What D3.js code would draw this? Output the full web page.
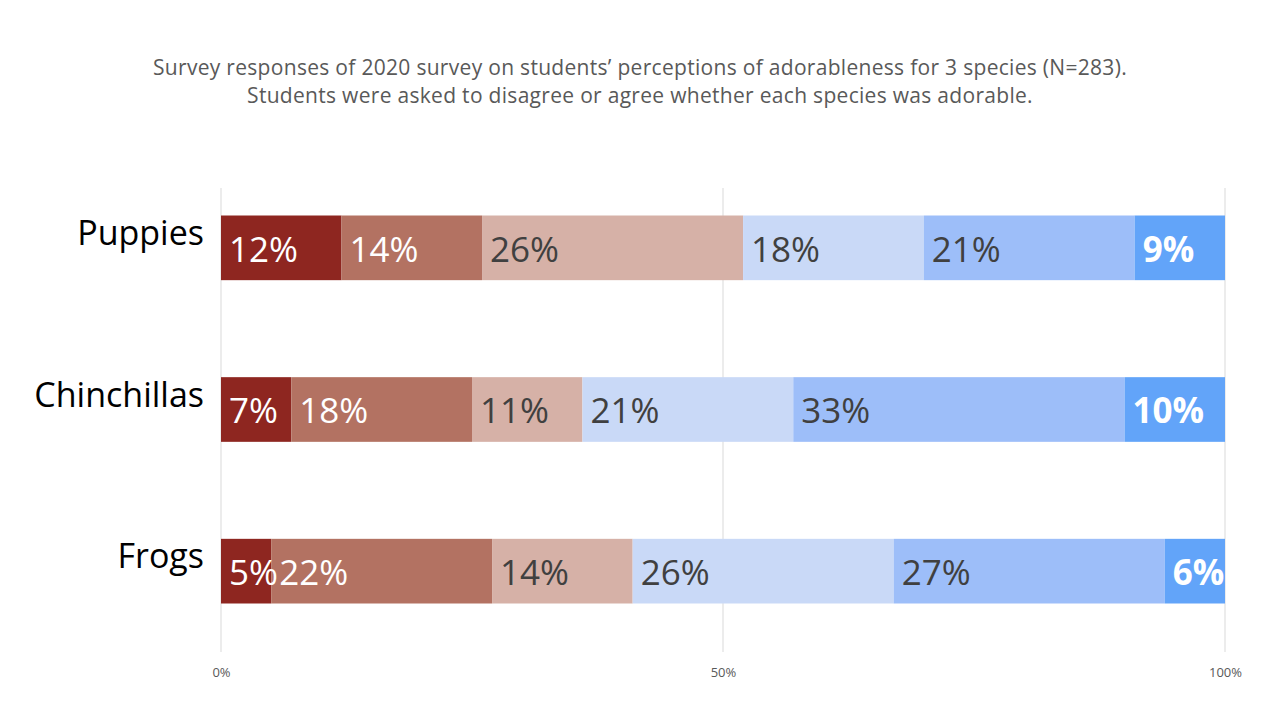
<!DOCTYPE html>
<html>
<head>
<meta charset="utf-8">
<script src="https://cdn.jsdelivr.net/npm/d3@7"></script>
<style>
  body { margin: 0; background: #fff; }
  text { font-family: "Open Sans", "Noto Sans", sans-serif; }
</style>
</head>
<body>
<div id="chart"></div>
<script>
// species on the vertical axis
const species = ["Puppies", "Chinchillas", "Frogs"];
// response levels, disagree -> agree
const levels = ["Strongly disagree", "Disagree", "Somewhat disagree", "Somewhat agree", "Agree", "Strongly agree"];
// percentages for each species, in level order
const puppies = [12, 14, 26, 18, 21, 9];
const chinchillas = [7, 18, 11, 21, 33, 10];
const frogs = [5, 22, 14, 26, 27, 6];
const tickValues = [0, 50, 100];
const titleLines = [
    "Survey responses of 2020 survey on students\u2019 perceptions of adorableness for 3 species (N=283).",
    "Students were asked to disagree or agree whether each species was adorable."
];

const colors = ["#8E2620", "#B37262", "#D6B1A7", "#C9D9F7", "#9DBEF9", "#62A4F9"];
const labelColors = ["#fff", "#fff", "#404040", "#404040", "#404040", "#fff"];

const width = 1280;
const height = 720;

const rows = [puppies, chinchillas, frogs].map((vals, i) => {
    let acc = 0;
    return {
        name: species[i],
        segs: vals.map((v, j) => {
            const s = { level: j, value: v, x0: acc, x1: acc + v };
            acc += v;
            return s;
        })
    };
});

const svg = d3.select("#chart")
    .append("svg")
    .attr("width", width)
    .attr("height", height);

const x = d3.scaleLinear()
    .domain([0, 100])
    .range([221, 1225]);

const y = d3.scaleBand()
    .domain(species)
    .range([167, 652])
    .paddingInner(0.6)
    .paddingOuter(0.3);

// title
svg.append("g")
    .selectAll("text")
    .data(titleLines)
    .enter().append("text")
    .attr("x", 640)
    .attr("y", (d, i) => 75 + i * 28)
    .attr("text-anchor", "middle")
    .attr("font-size", "21px")
    .attr("letter-spacing", "0.3px")
    .attr("fill", "#595959")
    .text(d => d);

// gridlines
svg.append("g")
    .selectAll("line")
    .data(tickValues)
    .enter().append("line")
    .attr("x1", d => x(d))
    .attr("x2", d => x(d))
    .attr("y1", 188)
    .attr("y2", 652)
    .attr("stroke", "#d9d9d9")
    .attr("stroke-width", 1);

// bottom axis labels
const xAxis = d3.axisBottom(x)
    .tickValues(tickValues)
    .tickSize(0)
    .tickPadding(0)
    .tickFormat(d => d + "%");

svg.append("g")
    .attr("transform", "translate(0, 668)")
    .call(xAxis)
    .call(g => g.select(".domain").remove())
    .call(g => g.selectAll("text")
        .attr("font-family", "\"Open Sans\", sans-serif")
        .attr("font-size", "13px")
        .attr("fill", "#595959"));

// category labels
svg.append("g")
    .selectAll("text")
    .data(species)
    .enter().append("text")
    .attr("x", 204)
    .attr("y", d => y(d) + y.bandwidth() / 2 - 3)
    .attr("text-anchor", "end")
    .attr("font-size", "34px")
    .attr("fill", "#000")
    .text(d => d);

// bars
const row = svg.append("g")
    .selectAll("g")
    .data(rows)
    .enter().append("g")
    .attr("transform", d => `translate(0, ${y(d.name)})`);

row.selectAll("rect")
    .data(d => d.segs)
    .enter().append("rect")
    .attr("x", d => x(d.x0))
    .attr("y", 0)
    .attr("width", d => x(d.x1) - x(d.x0))
    .attr("height", y.bandwidth())
    .attr("fill", d => colors[d.level]);

row.selectAll("text")
    .data(d => d.segs)
    .enter().append("text")
    .attr("x", d => x(d.x0) + 8)
    .attr("y", y.bandwidth() / 2 + 14)
    .attr("font-size", "35px")
    .attr("font-weight", d => d.level === 5 ? "bold" : "normal")
    .attr("fill", d => labelColors[d.level])
    .text(d => d.value + "%");
</script>
</body>
</html>
